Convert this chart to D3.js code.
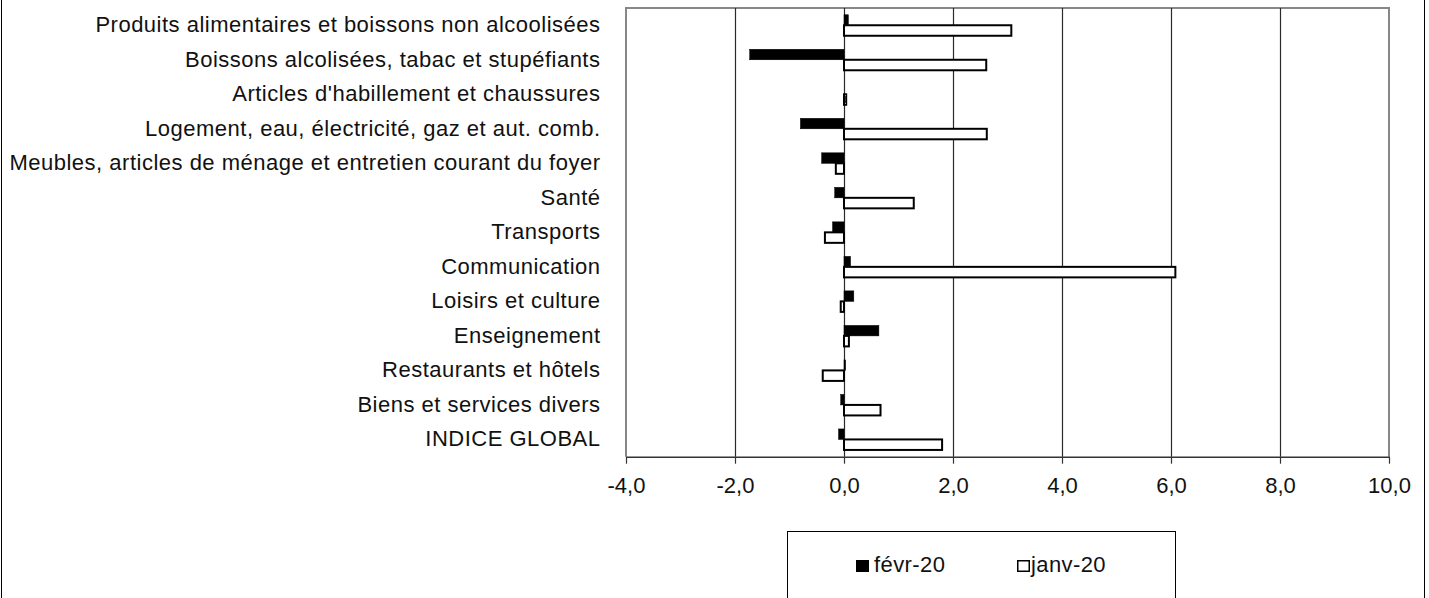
<!DOCTYPE html>
<html>
<head>
<meta charset="utf-8">
<script src="https://cdn.jsdelivr.net/npm/d3@7"></script>
<style>
  body { margin: 0; background: #fff; }
  svg { display: block; font-family: "Liberation Sans", Arial, sans-serif; }
</style>
</head>
<body>
<script>
// categories, top to bottom
var categories = [
  "Produits alimentaires et boissons non alcoolisées",
  "Boissons alcolisées, tabac et stupéfiants",
  "Articles d'habillement et chaussures",
  "Logement, eau, électricité, gaz et aut. comb.",
  "Meubles, articles de ménage et entretien courant du foyer",
  "Santé",
  "Transports",
  "Communication",
  "Loisirs et culture",
  "Enseignement",
  "Restaurants et hôtels",
  "Biens et services divers",
  "INDICE GLOBAL"
];
var seriesNames = ["févr-20", "janv-20"];
var fevr20 = [0.08, -1.73, 0.0, -0.80, -0.41, -0.17, -0.21, 0.12, 0.18, 0.64, 0.03, -0.06, -0.10];
var janv20 = [3.07, 2.61, 0.04, 2.62, -0.15, 1.28, -0.35, 6.08, -0.06, 0.09, -0.39, 0.67, 1.80];
var xTicks = [-4, -2, 0, 2, 4, 6, 8, 10];

function draw() {
  var W = 1429, H = 598;
  var plotL = 626, plotR = 1389, plotT = 8, plotB = 456.7;

  var svg = d3.select("body").append("svg").attr("width", W).attr("height", H);

  var x = d3.scaleLinear().domain([-4, 10]).range([plotL, plotR]);
  var y = d3.scaleBand().domain(categories).range([plotT, plotB]).padding(0);
  var y1 = d3.scaleBand().domain(seriesNames).range([-10.5, 10.5]);

  var fr = d3.formatLocale({ decimal: ",", thousands: " ", grouping: [3], currency: ["", " €"], minus: "-" });
  var fmt = fr.format(".1f");

  // outer chart frame
  svg.append("line").attr("x1", 1.5).attr("x2", 1.5).attr("y1", 0).attr("y2", H)
    .attr("stroke", "#000").attr("stroke-width", 1);
  svg.append("line").attr("x1", 1424.5).attr("x2", 1424.5).attr("y1", 0).attr("y2", H)
    .attr("stroke", "#000").attr("stroke-width", 1);

  // plot border (gray)
  svg.append("path")
    .attr("d", "M" + plotL + "," + plotB + "V" + plotT + "H" + plotR + "V" + plotB)
    .attr("fill", "none").attr("stroke", "#878787").attr("stroke-width", 2);

  // gridlines
  svg.selectAll(".grid").data(xTicks.filter(function (d) { return d > -4 && d < 10; }))
    .enter().append("line")
    .attr("class", "grid")
    .attr("x1", function (d) { return Math.round(x(d)) + 0.5; })
    .attr("x2", function (d) { return Math.round(x(d)) + 0.5; })
    .attr("y1", plotT).attr("y2", plotB)
    .attr("stroke", "#2a2a2a").attr("stroke-width", 1.2);

  // x axis
  var xAxis = d3.axisBottom(x).tickValues(xTicks).tickSize(7).tickSizeOuter(0)
    .tickPadding(14).tickFormat(fmt);
  var gx = svg.append("g").attr("transform", "translate(0," + plotB + ")").call(xAxis);
  gx.select(".domain").attr("stroke", "#333").attr("stroke-width", 1.5);
  gx.selectAll(".tick line").attr("stroke", "#333").attr("stroke-width", 1.2);
  gx.selectAll(".tick text").attr("fill", "#111").style("font-size", "22px")
    .style("font-family", "'Liberation Sans', Arial, sans-serif");

  // category labels
  svg.selectAll(".cat").data(categories).enter().append("text")
    .attr("class", "cat")
    .attr("x", 600.5)
    .attr("y", function (d) { return y(d) + y.bandwidth() / 2 + 7; })
    .attr("text-anchor", "end")
    .style("font-size", "22px")
    .style("letter-spacing", "0.5px")
    .attr("fill", "#111")
    .text(function (d) { return d; });

  // bars
  var rows = categories.map(function (c, i) {
    return [[fevr20[i], "févr-20"], [janv20[i], "janv-20"]];
  });
  var slice = svg.selectAll(".slice").data(rows).enter().append("g")
    .attr("class", "slice")
    .attr("transform", function (d, i) {
      return "translate(0," + (y(categories[i]) + y.bandwidth() / 2) + ")";
    });

  slice.selectAll("rect").data(function (d) { return d; }).enter().append("rect")
    .attr("x", function (d) { return x(Math.min(0, d[0])); })
    .attr("width", function (d) { return Math.abs(x(d[0]) - x(0)); })
    .attr("y", function (d) { return y1(d[1]); })
    .attr("height", y1.bandwidth())
    .attr("fill", function (d) { return d[1] === "févr-20" ? "#000" : "#fff"; })
    .attr("stroke", "#000")
    .attr("stroke-width", function (d) { return d[1] === "févr-20" ? 0.5 : 2; });

  // legend
  svg.append("rect").attr("x", 787.5).attr("y", 531.5).attr("width", 388).attr("height", 100)
    .attr("fill", "#fff").attr("stroke", "#000").attr("stroke-width", 1);

  var legendX = [856, 1017];
  var legend = svg.selectAll(".legend").data(seriesNames).enter().append("g")
    .attr("class", "legend")
    .attr("transform", function (d, i) { return "translate(" + legendX[i] + ",560)"; });
  legend.append("rect")
    .attr("x", function (d, i) { return i === 0 ? 0 : 0.75; })
    .attr("y", function (d, i) { return i === 0 ? 0 : 0.75; })
    .attr("width", function (d, i) { return i === 0 ? 13 : 11.5; })
    .attr("height", function (d, i) { return i === 0 ? 12 : 10.5; })
    .attr("fill", function (d, i) { return i === 0 ? "#000" : "#fff"; })
    .attr("stroke", function (d, i) { return i === 0 ? "none" : "#000"; })
    .attr("stroke-width", 1.5);
  legend.append("text")
    .attr("x", function (d, i) { return i === 0 ? 18 : 14; })
    .attr("y", 12)
    .style("font-size", "22px")
    .style("letter-spacing", "0.4px")
    .attr("fill", "#111")
    .text(function (d) { return d; });
}
draw();
</script>
</body>
</html>
